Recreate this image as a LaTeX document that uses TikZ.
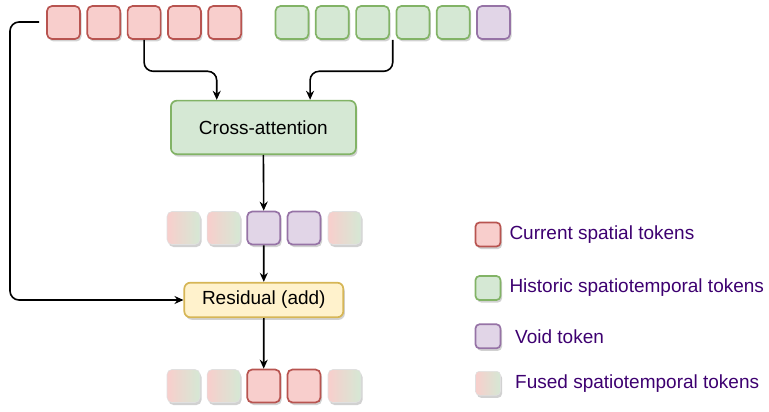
\documentclass[tikz,border=0pt]{standalone}
\usepackage{fontspec}
\setmainfont{Liberation Sans}
\usetikzlibrary{arrows.meta,shadows,calc}
\definecolor{redfill}{HTML}{F8CECC}
\definecolor{redline}{HTML}{B85450}
\definecolor{greenfill}{HTML}{D5E8D4}
\definecolor{greenline}{HTML}{82B366}
\definecolor{purplefill}{HTML}{E1D5E7}
\definecolor{purpleline}{HTML}{9673A6}
\definecolor{yellowfill}{HTML}{FFF2CC}
\definecolor{yellowline}{HTML}{D6B656}
\definecolor{legendtext}{HTML}{3D0070}
\tikzset{
  softshadow/.style={drop shadow={shadow xshift=1.5pt, shadow yshift=-2.5pt, opacity=0.18, fill=black}},
  token/.style={minimum width=33pt, minimum height=33pt, rounded corners=5pt, line width=1.7pt, softshadow},
  redtok/.style={token, fill=redfill, draw=redline},
  greentok/.style={token, fill=greenfill, draw=greenline},
  purpletok/.style={token, fill=purplefill, draw=purpleline},
  fusedtok/.style={token, left color=redfill, right color=greenfill, draw=black!12, line width=0.6pt},
  legbox/.style={minimum width=25pt, minimum height=24pt, rounded corners=4pt},
  blockbox/.style={rounded corners=6pt, line width=1.7pt, softshadow, font=\fontsize{19}{22}\selectfont, text=black, inner sep=0pt},
  legtext/.style={anchor=west, text=legendtext, font=\fontsize{19}{22}\selectfont, inner sep=0pt},
  conn/.style={line width=1.6pt, draw=black, rounded corners=9pt},
  arr/.style={conn, -{Stealth[length=9pt, width=8pt]}}
}
\begin{document}
\begin{tikzpicture}[x=1pt, y=-1pt]
\useasboundingbox (0,0) rectangle (769,412);

% current spatial tokens (top, left)
\foreach \i in {1,...,5}
  \node[redtok] (r\i) at ({63.5+40.3*(\i-1)}, 22.5) {};

% historic spatiotemporal tokens and a void token (top, right)
\foreach \i in {1,...,5}
  \node[greentok] (g\i) at ({292+40.3*(\i-1)}, 22.5) {};
\node[purpletok] (g6) at (493.5, 22.5) {};

% cross-attention block
\node[blockbox, fill=greenfill, draw=greenline, minimum width=185pt, minimum height=53.5pt] (ca) at (263.4, 127.4) {Cross-attention};

% attended tokens
\node[fusedtok] (m1) at (183.5, 228) {};
\node[fusedtok] (m2) at (223.6, 228) {};
\node[purpletok] (m3) at (263.7, 228) {};
\node[purpletok] (m4) at (304, 228) {};
\node[fusedtok] (m5) at (344.5, 228) {};

% residual block
\node[blockbox, fill=yellowfill, draw=yellowline, minimum width=159pt, minimum height=34.6pt] (res) at (263.8, 300) {Residual (add)};

% output tokens
\node[fusedtok] (o1) at (183.5, 386) {};
\node[fusedtok] (o2) at (223.6, 386) {};
\node[redtok] (o3) at (263.7, 386) {};
\node[redtok] (o4) at (304, 386) {};
\node[fusedtok] (o5) at (344.5, 386) {};

% connectors
\coordinate (gsplit) at ($(g3.south east)!0.5!(g4.south west)$);
\coordinate (skip) at (39, 22);
\draw[arr] (r3.south) |- ($(ca.north west)!0.25!(ca.north east)+(0,-28.5)$) -- ($(ca.north west)!0.25!(ca.north east)$);
\draw[arr] (gsplit) |- ($(ca.north west)!0.75!(ca.north east)+(0,-28.5)$) -- ($(ca.north west)!0.75!(ca.north east)$);
\draw[arr] (ca.south) -- (m3.north);
\draw[arr] (m3.south) -- (res.north);
\draw[arr] (res.south) -- (o3.north);
\draw[arr] (skip) -- (10, 22) -- (10, 300) -- (res.west);

% legend
\node[legbox, fill=redfill, draw=redline, line width=1.7pt, softshadow] (l1) at (488, 234.5) {};
\node[legbox, fill=greenfill, draw=greenline, line width=1.7pt, softshadow] (l2) at (488, 288) {};
\node[legbox, fill=purplefill, draw=purpleline, line width=1.7pt, softshadow] (l3) at (488, 336.3) {};
\node[legbox, left color=redfill, right color=greenfill, draw=black!12, line width=0.6pt, softshadow] (l4) at (488, 383.3) {};
\node[legtext] (t1) at (509.3, 234.5) {Current spatial tokens};
\node[legtext] (t2) at (509.3, 288) {Historic spatiotemporal tokens};
\node[legtext] (t3) at (515, 336.3) {Void token};
\node[legtext] (t4) at (515, 383.3) {Fused spatiotemporal tokens};
\end{tikzpicture}
\end{document}
